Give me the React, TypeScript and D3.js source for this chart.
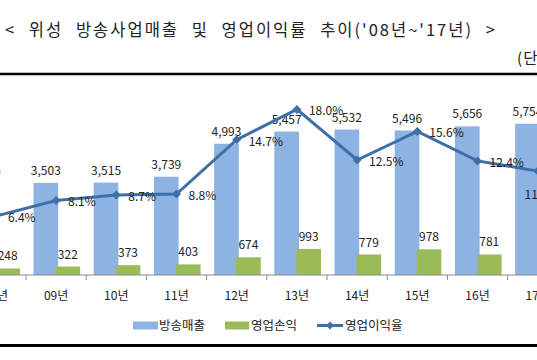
import React from 'react';
import * as d3 from 'd3';

// 연도별 위성 방송사업매출(억원), 영업손익(억원), 영업이익율(%)
const years = ['08년', '09년', '10년', '11년', '12년', '13년', '14년', '15년', '16년', '17년'];
const revenue = [3420, 3503, 3515, 3739, 4993, 5457, 5532, 5496, 5656, 5754];
const operatingProfit = [248, 322, 373, 403, 674, 993, 779, 978, 781, 760];
const operatingMargin = [6.4, 8.1, 8.7, 8.8, 14.7, 18.0, 12.5, 15.6, 12.4, 11.3];
const legendLabels = ['방송매출', '영업손익', '영업이익율'];

const W = 537;
const H = 360;
const FONT = '"Noto Sans CJK KR", "Noto Sans", sans-serif';
const BLUE = '#8db3e2';
const GREEN = '#9bbb59';
const LINE = '#3f6fa8';

const diamond = (cx: number, cy: number, r: number) =>
  `M${cx},${cy - r}L${cx + r},${cy}L${cx},${cy + r}L${cx - r},${cy}Z`;

export default function App() {
  const x = d3.scaleBand().domain(years).range([-34.2, 567.8]);
  const yBar = d3.scaleLinear().domain([0, 7000]).range([275, 91]);
  const yPct = d3.scaleLinear().domain([0, 20]).range([275, 91]);
  const bw = x.bandwidth();
  const barW = bw * 0.41;
  const blueOff = bw * 0.125;
  const greenOff = bw * 0.49;
  const fmt = d3.format(',');

  const pts = years.map((yr, i) => [x(yr)! + bw / 2, yPct(operatingMargin[i])] as [number, number]);
  const line = d3.line()(pts) || '';
  const ticks = [...years.map(yr => x(yr)!), x(years[years.length - 1])! + bw];

  return (
    <svg width={W} height={H} style={{ position: 'absolute', left: 0, top: 0, background: '#fff' }} fontFamily={FONT}>
      <rect width={W} height={H} fill="#fff" />
      <text x={5} y={36} fontSize={16.5} fill="#222" letterSpacing={2} wordSpacing={7}>
        {"< 위성 방송사업매출 및 영업이익률 추이('08년~'17년) >"}
      </text>
      <text x={517} y={64} fontSize={15.5} fill="#222" letterSpacing={1}>(단위: 억원, %)</text>
      <line x1={0} x2={W} y1={74} y2={74} stroke="#000" strokeWidth={2.6} />

      {/* bars */}
      {years.map((yr, i) => (
        <g key={yr}>
          <rect x={x(yr)! + blueOff} width={barW} y={yBar(revenue[i])} height={yBar(0) - yBar(revenue[i])} fill={BLUE} />
          <rect x={x(yr)! + greenOff} width={barW} y={yBar(operatingProfit[i])} height={yBar(0) - yBar(operatingProfit[i])} fill={GREEN} />
          <text x={x(yr)! + blueOff + barW / 2} y={yBar(revenue[i]) - 8} textAnchor="middle" fontSize={12} fill="#222">{fmt(revenue[i])}</text>
          <text x={x(yr)! + greenOff + barW / 2} y={yBar(operatingProfit[i]) - 8} textAnchor="middle" fontSize={12} fill="#222">{fmt(operatingProfit[i])}</text>
        </g>
      ))}

      {/* axis */}
      <line x1={0} x2={W} y1={yBar(0)} y2={yBar(0)} stroke="#8a8a8a" strokeWidth={1} />
      {ticks.map((t, i) => (
        <line key={i} x1={t} x2={t} y1={yBar(0)} y2={yBar(0) + 5} stroke="#8a8a8a" strokeWidth={1} />
      ))}
      {years.map(yr => (
        <text key={yr} x={x(yr)! + bw / 2} y={300} textAnchor="middle" fontSize={12} fill="#222">{yr}</text>
      ))}

      {/* margin line */}
      <path d={line} fill="none" stroke={LINE} strokeWidth={3} />
      {pts.map(([px, py], i) => (
        <path key={i} d={diamond(px, py, 4.5)} fill={LINE} />
      ))}
      {pts.map(([px, py], i) =>
        i === years.length - 1 ? (
          <text key={i} x={px + 4} y={py + 28} textAnchor="middle" fontSize={12} fill="#222">{operatingMargin[i].toFixed(1)}%</text>
        ) : (
          <text key={i} x={px + 12} y={py + 6} fontSize={12} fill="#222">{operatingMargin[i].toFixed(1)}%</text>
        )
      )}

      {/* legend */}
      <rect x={133} y={321.5} width={25} height={8} fill={BLUE} />
      <text x={159} y={330} fontSize={12.5} fill="#222">{legendLabels[0]}</text>
      <rect x={225} y={321.5} width={24} height={8} fill={GREEN} />
      <text x={251} y={330} fontSize={12.5} fill="#222">{legendLabels[1]}</text>
      <line x1={317} x2={343} y1={325.5} y2={325.5} stroke={LINE} strokeWidth={3} />
      <path d={diamond(330, 325.5, 4)} fill={LINE} />
      <text x={345} y={330} fontSize={12.5} fill="#222">{legendLabels[2]}</text>

      <line x1={0} x2={W} y1={345.5} y2={345.5} stroke="#000" strokeWidth={3} />
    </svg>
  );
}
